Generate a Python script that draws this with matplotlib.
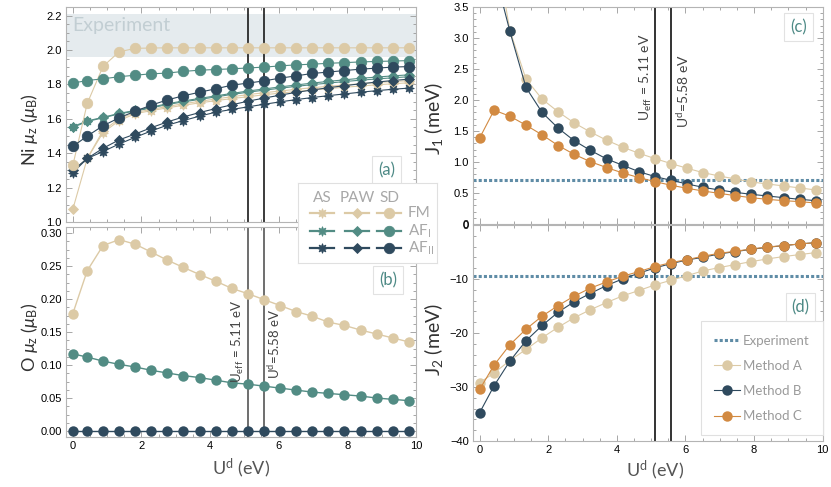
import matplotlib.pyplot as plt
from matplotlib.ticker import FormatStrFormatter, FuncFormatter, MultipleLocator

plt.rcParams["font.family"] = ["Liberation Sans", "DejaVu Sans"]
plt.rcParams["mathtext.fontset"] = "custom"
plt.rcParams["mathtext.rm"] = "Lato"
plt.rcParams["mathtext.it"] = "Lato:italic"
plt.rcParams["mathtext.bf"] = "Lato:bold"

THIN = ["Lato", "DejaVu Sans"]

# U^d grid (eV)
U = [0.0, 0.42, 0.88, 1.35, 1.82, 2.29, 2.75, 3.22, 3.70, 4.17, 4.64,
     5.11, 5.58, 6.05, 6.51, 6.98, 7.45, 7.92, 8.39, 8.86, 9.33, 9.80]

# (a) Ni moment, three codes x three magnetic orders
as_fm = [1.30, 1.37, 1.52, 1.59, 1.63, 1.648, 1.664, 1.679, 1.693, 1.706, 1.718,
         1.729, 1.740, 1.750, 1.759, 1.768, 1.776, 1.784, 1.791, 1.798, 1.804, 1.810]
as_afi = [1.55, 1.585, 1.606, 1.629, 1.645, 1.664, 1.683, 1.699, 1.713, 1.728, 1.742,
          1.755, 1.767, 1.778, 1.789, 1.799, 1.808, 1.817, 1.825, 1.832, 1.839, 1.845]
as_afii = [1.287, 1.37, 1.41, 1.454, 1.493, 1.53, 1.563, 1.59, 1.616, 1.639, 1.655,
           1.67, 1.685, 1.699, 1.712, 1.724, 1.735, 1.745, 1.755, 1.764, 1.772, 1.779]
paw_fm = [1.075, 1.37, 1.532, 1.60, 1.638, 1.655, 1.672, 1.688, 1.702, 1.716, 1.729,
          1.741, 1.752, 1.762, 1.772, 1.781, 1.789, 1.797, 1.804, 1.811, 1.817, 1.822]
paw_afi = [1.555, 1.588, 1.609, 1.632, 1.649, 1.668, 1.688, 1.704, 1.719, 1.734, 1.748,
           1.762, 1.774, 1.786, 1.797, 1.808, 1.818, 1.827, 1.836, 1.843, 1.850, 1.856]
paw_afii = [1.30, 1.37, 1.429, 1.478, 1.512, 1.549, 1.582, 1.611, 1.637, 1.660, 1.682,
            1.703, 1.721, 1.738, 1.754, 1.768, 1.781, 1.793, 1.804, 1.814, 1.823, 1.831]
sd_fm = [1.33, 1.69, 1.905, 1.99, 2.01, 2.012, 2.013, 2.013, 2.013, 2.013, 2.013,
         2.013, 2.013, 2.013, 2.013, 2.013, 2.013, 2.013, 2.013, 2.013, 2.013, 2.013]
sd_afi = [1.808, 1.823, 1.833, 1.845, 1.854, 1.862, 1.866, 1.876, 1.883, 1.887, 1.891,
          1.896, 1.901, 1.908, 1.914, 1.918, 1.923, 1.927, 1.931, 1.934, 1.936, 1.939]
sd_afii = [1.44, 1.50, 1.56, 1.606, 1.645, 1.68, 1.71, 1.734, 1.755, 1.775, 1.796,
           1.808, 1.821, 1.837, 1.850, 1.864, 1.872, 1.881, 1.889, 1.895, 1.901, 1.904]
ni_exp = (1.96, 2.21)

# (b) O moment (SD)
o_fm = [0.178, 0.243, 0.281, 0.290, 0.283, 0.271, 0.259, 0.248, 0.237, 0.227, 0.216,
        0.208, 0.199, 0.190, 0.181, 0.174, 0.165, 0.160, 0.153, 0.147, 0.141, 0.135]
o_afi = [0.117, 0.112, 0.106, 0.101, 0.097, 0.092, 0.088, 0.084, 0.081, 0.077, 0.073,
         0.071, 0.068, 0.065, 0.062, 0.059, 0.057, 0.055, 0.053, 0.050, 0.048, 0.046]
o_afii = [0.0, 0.0, 0.0, 0.0, 0.0, 0.0, 0.0, 0.0, 0.0, 0.0, 0.0,
          0.0, 0.0, 0.0, 0.0, 0.0, 0.0, 0.0, 0.0, 0.0, 0.0, 0.0]

# (c) J1 and (d) J2 (meV)
j1_a = [8.0, 4.6, 3.12, 2.337, 2.014, 1.809, 1.632, 1.486, 1.352, 1.239, 1.142,
        1.055, 0.975, 0.899, 0.829, 0.775, 0.727, 0.678, 0.646, 0.614, 0.582, 0.549]
j1_b = [7.0, 4.1, 3.107, 2.202, 1.799, 1.545, 1.346, 1.19, 1.05, 0.948, 0.845,
        0.765, 0.705, 0.646, 0.592, 0.549, 0.511, 0.479, 0.452, 0.425, 0.398, 0.377]
j1_c = [1.389, 1.836, 1.739, 1.594, 1.438, 1.265, 1.125, 1.007, 0.91, 0.824, 0.749,
        0.684, 0.625, 0.576, 0.533, 0.495, 0.458, 0.425, 0.398, 0.377, 0.361, 0.339]
j2_a = [-29.2, -27.4, -25.1, -23.04, -20.88, -18.92, -17.19, -15.71, -14.36, -13.12, -12.14,
        -11.09, -10.23, -9.37, -8.50, -7.89, -7.33, -6.78, -6.28, -5.85, -5.48, -5.11]
j2_b = [-34.75, -29.76, -25.20, -21.44, -18.61, -16.14, -14.23, -12.69, -11.21, -9.98, -8.93,
        -7.95, -7.15, -6.47, -5.98, -5.36, -4.93, -4.50, -4.13, -3.82, -3.51, -3.27]
j2_c = [-30.44, -25.94, -22.18, -19.29, -16.88, -14.91, -13.19, -11.71, -10.54, -9.49, -8.63,
        -7.70, -6.96, -6.41, -5.79, -5.24, -4.87, -4.44, -4.07, -3.82, -3.51, -3.27]
j1_exp = 0.71
j2_exp = -9.4

u_eff = 5.11
u_d = 5.58

BEIGE = "#dccaa6"
TEAL = "#528c84"
DARK = "#2f4a5e"
ORANGE = "#d28a42"
EXPC = "#5f8ca6"
FRAME = "#b4b4b4"

fig = plt.figure(figsize=(8.31, 4.87), dpi=100)
ax_a = fig.add_axes([0.0794, 0.544, 0.421, 0.4415])
ax_b = fig.add_axes([0.0794, 0.1027, 0.421, 0.431])
ax_c = fig.add_axes([0.569, 0.540, 0.421, 0.4456])
ax_d = fig.add_axes([0.569, 0.0945, 0.421, 0.4435])


def frame(ax, xlabels):
    for s in ax.spines.values():
        s.set_color(FRAME)
        s.set_linewidth(0.8)
    ax.set_xlim(-0.2, 10.0)
    ax.xaxis.set_major_locator(MultipleLocator(2))
    ax.xaxis.set_minor_locator(MultipleLocator(0.5))
    ax.tick_params(which="both", direction="in", top=True, right=True,
                   color="#999999", width=0.6, labelsize=8, pad=3)
    ax.tick_params(which="major", length=4)
    ax.tick_params(which="minor", length=2)
    ax.tick_params(labelbottom=xlabels)


def vlines(ax, color):
    ax.axvline(u_eff, color=color, lw=1.2, zorder=1)
    ax.axvline(u_d, color=color, lw=1.2, zorder=1)


def tag(ax, s, x, y):
    ax.text(x, y, s, transform=ax.transAxes, ha="center", va="center",
            fontsize=12, family=THIN, color="#4e8a86", zorder=10,
            bbox=dict(boxstyle="square,pad=0.35", fc="white", ec="#e2e2e2", lw=0.8))


# ---- (a)
frame(ax_a, False)
ax_a.set_ylim(1.0, 2.25)
ax_a.yaxis.set_major_locator(MultipleLocator(0.2))
ax_a.yaxis.set_minor_locator(MultipleLocator(0.05))
ax_a.yaxis.set_major_formatter(FormatStrFormatter("%.1f"))
ax_a.axhspan(ni_exp[0], ni_exp[1], color="#e5ebee", lw=0, zorder=0)
ax_a.text(-0.03, 2.14, "Experiment", fontsize=14, family=THIN,
          color="#c2ced3", va="center", ha="left")
vlines(ax_a, "#1a1a1a")

series_a = [
    (as_fm, BEIGE, (8, 1, 0), 7), (as_afi, TEAL, (8, 1, 0), 7), (as_afii, DARK, (8, 1, 0), 7),
    (paw_fm, BEIGE, "D", 5), (paw_afi, TEAL, "D", 5), (paw_afii, DARK, "D", 5),
    (sd_fm, BEIGE, "o", 7.5), (sd_afi, TEAL, "o", 7.5), (sd_afii, DARK, "o", 7.5),
]
for vals, col, mk, ms in series_a:
    ax_a.plot(U, vals, color=col, lw=0.8, marker=mk, ms=ms, mec=col, mew=0.6, zorder=3)
ax_a.set_ylabel(r"Ni $\mu_\mathrm{z}$ ($\mu_\mathrm{B}$)", fontsize=13, color="#333333",
                family=THIN)
ax_a.yaxis.set_label_coords(-0.075, 0.43)
tag(ax_a, "(a)", 0.917, 0.242)

# ---- (b)
frame(ax_b, True)
ax_b.set_ylim(-0.009, 0.309)
ax_b.yaxis.set_major_locator(MultipleLocator(0.05))
ax_b.yaxis.set_minor_locator(MultipleLocator(0.0125))
ax_b.yaxis.set_major_formatter(FormatStrFormatter("%.2f"))
vlines(ax_b, "#555555")
for vals, col in [(o_fm, BEIGE), (o_afi, TEAL), (o_afii, DARK)]:
    ax_b.plot(U, vals, color=col, lw=1.0, marker="o", ms=7.5, mew=0, zorder=3)
ax_b.text(4.80, 0.136, r"U$_\mathrm{eff}$ = 5.11 eV", rotation=90, ha="center", va="center",
          fontsize=9.5, family=THIN, color="#444444")
ax_b.text(5.87, 0.132, r"U$^\mathrm{d}$=5.58 eV", rotation=90, ha="center", va="center",
          fontsize=9.5, family=THIN, color="#444444")
ax_b.set_ylabel(r"O $\mu_\mathrm{z}$ ($\mu_\mathrm{B}$)", fontsize=13, color="#333333",
                family=THIN)
ax_b.yaxis.set_label_coords(-0.075, 0.476)
ax_b.set_xlabel(r"U$^\mathrm{d}$ (eV)", fontsize=13, color="#555555", family=THIN)
ax_b.xaxis.set_label_coords(0.5, -0.095)
tag(ax_b, "(b)", 0.92, 0.748)

# ---- (c)
frame(ax_c, False)
ax_c.set_ylim(0, 3.5)
ax_c.yaxis.set_major_locator(MultipleLocator(0.5))
ax_c.yaxis.set_minor_locator(MultipleLocator(0.1))
ax_c.yaxis.set_major_formatter(FuncFormatter(lambda v, p: "0" if abs(v) < 1e-9 else f"{v:.1f}"))
vlines(ax_c, "#111111")
ax_c.axhline(j1_exp, color=EXPC, lw=2.2, ls=(0, (1.0, 0.7)), zorder=2)
for vals, col in [(j1_a, BEIGE), (j1_b, DARK), (j1_c, ORANGE)]:
    ax_c.plot(U, vals, color=col, lw=0.8, marker="o", ms=7.5, mew=0, zorder=3)
ax_c.text(4.84, 2.37, r"U$_\mathrm{eff}$ = 5.11 eV", rotation=90, ha="center", va="center",
          fontsize=10, family=THIN, color="#444444")
ax_c.text(5.92, 2.15, r"U$^\mathrm{d}$=5.58 eV", rotation=90, ha="center", va="center",
          fontsize=10, family=THIN, color="#444444")
ax_c.set_ylabel(r"J$_1$ (meV)", fontsize=14, color="#333333", family=THIN)
ax_c.yaxis.set_label_coords(-0.08, 0.484)
tag(ax_c, "(c)", 0.931, 0.908)

# ---- (d)
frame(ax_d, True)
ax_d.set_ylim(-40, 0)
ax_d.yaxis.set_major_locator(MultipleLocator(10))
ax_d.yaxis.set_minor_locator(MultipleLocator(2))
vlines(ax_d, "#111111")
ax_d.axhline(j2_exp, color=EXPC, lw=2.2, ls=(0, (1.0, 0.7)), zorder=2, label="Experiment")
for vals, col, name in [(j2_a, BEIGE, "Method A"), (j2_b, DARK, "Method B"),
                        (j2_c, ORANGE, "Method C")]:
    ax_d.plot(U, vals, color=col, lw=0.8, marker="o", ms=7.5, mew=0, zorder=3, label=name)
leg = ax_d.legend(loc="center", bbox_to_anchor=(0.826, 0.29),
                  labelcolor="#9a9a9a", handlelength=2.0, borderpad=1.0, labelspacing=1.0,
                  handletextpad=0.2, fancybox=False, framealpha=1, edgecolor="#e0e0e0",
                  prop=dict(family=THIN, size=9.5))
leg.get_frame().set_linewidth(0.8)
ax_d.set_ylabel(r"J$_2$ (meV)", fontsize=14, color="#333333", family=THIN)
ax_d.yaxis.set_label_coords(-0.08, 0.47)
ax_d.set_xlabel(r"U$^\mathrm{d}$ (eV)", fontsize=13, color="#555555", family=THIN)
ax_d.xaxis.set_label_coords(0.52, -0.08)
tag(ax_d, "(d)", 0.937, 0.62)

# ---- legend for (a)/(b): codes in columns, orders in rows
lg = fig.add_axes([0.3586, 0.46, 0.1673, 0.1643])
lg.set_xlim(0, 139)
lg.set_ylim(80, 0)
lg.set_xticks([])
lg.set_yticks([])
for s in lg.spines.values():
    s.set_color("#e0e0e0")
    s.set_linewidth(0.8)
codes = ["AS", "PAW", "SD"]
code_x = [24, 59, 91]
code_mk = [((8, 1, 0), 7), ("D", 5), ("o", 7.5)]
orders = ["FM", r"AF$_\mathrm{I}$", r"AF$_\mathrm{II}$"]
order_col = [BEIGE, TEAL, DARK]
row_y = [30, 48, 65]
for cx, name, (mk, ms) in zip(code_x, codes, code_mk):
    lg.text(cx, 15, name, ha="center", va="center", fontsize=11, family=THIN,
            color="#a8a8a8")
    for ry, col in zip(row_y, order_col):
        lg.plot([cx - 12, cx + 12], [ry, ry], color=col, lw=1.6)
        lg.plot([cx], [ry], color=col, marker=mk, ms=ms, mec=col, mew=0.6)
for ry, name in zip(row_y, orders):
    lg.text(110, ry, name, ha="left", va="center", fontsize=11, family=THIN,
            color="#a8a8a8")

fig.savefig("out.png", dpi=100)
